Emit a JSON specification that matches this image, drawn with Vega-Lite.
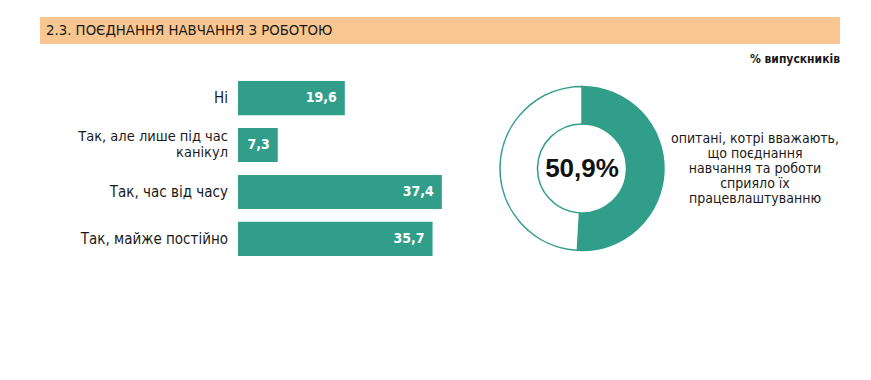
{
  "$schema": "https://vega.github.io/schema/vega-lite/v6.json",
  "background": "white",
  "padding": {"left": 40, "top": 17, "right": 5, "bottom": 5},
  "spacing": 10,
  "config": {
    "view": {"stroke": null},
    "font": "DejaVu Sans Condensed, DejaVu Sans",
    "locale": {"number": {"decimal": ",", "thousands": " ", "grouping": [3], "currency": ["", " грн"]}}
  },
  "datasets": {
    "bars": [
      {"cat": "Ні", "value": 19.6},
      {"cat": "Так, але лише під час\nканікул", "value": 7.3},
      {"cat": "Так, час від часу", "value": 37.4},
      {"cat": "Так, майже постійно", "value": 35.7}
    ],
    "donut": [
      {"part": "так", "value": 50.9, "n": 1},
      {"part": "ні", "value": 49.1, "n": 2}
    ]
  },
  "vconcat": [
    {
      "width": 800,
      "height": 27,
      "view": {"fill": "#F8C690", "stroke": null},
      "layer": [
        {
          "data": {"values": [{"t": "2.3. ПОЄДНАННЯ НАВЧАННЯ З РОБОТОЮ"}]},
          "mark": {"type": "text", "align": "left", "baseline": "middle", "dx": 6, "fontSize": 14.8, "color": "#1a1a1a"},
          "encoding": {
            "text": {"field": "t"},
            "x": {"datum": 0, "type": "quantitative", "scale": {"domain": [0, 1]}, "axis": null}
          }
        },
        {
          "data": {"values": [{"t": "% випускників"}]},
          "mark": {"type": "text", "align": "right", "baseline": "middle", "dy": 28, "fontSize": 12, "fontWeight": "bold", "color": "#1a1a1a"},
          "encoding": {
            "text": {"field": "t"},
            "x": {"datum": 1, "type": "quantitative"}
          }
        }
      ]
    },
    {
      "spacing": 10,
      "hconcat": [
        {
          "width": 188,
          "height": 187,
          "data": {"name": "bars"},
          "encoding": {
            "y": {"field": "cat", "type": "nominal", "axis": null, "scale": {"domain": ["Ні", "Так, але лише під час\nканікул", "Так, час від часу", "Так, майже постійно"], "paddingInner": 0.272, "paddingOuter": 0.13}},
            "x": {"value": "width"},
            "text": {"field": "cat"}
          },
          "layer": [
            {
              "transform": [{"filter": {"not": {"field": "cat", "equal": "Так, але лише під час\nканікул"}}}],
              "mark": {"type": "text", "align": "right", "baseline": "middle", "fontSize": 15, "color": "#1a1a1a"}
            },
            {
              "transform": [{"filter": {"field": "cat", "equal": "Так, але лише під час\nканікул"}}],
              "mark": {"type": "text", "align": "right", "baseline": "middle", "fontSize": 14.5, "lineBreak": "\n", "lineHeight": 15.5, "dy": -7.75, "color": "#1a1a1a"}
            }
          ]
        },
        {
          "width": 218,
          "height": 187,
          "data": {"name": "bars"},
          "encoding": {
            "y": {"field": "cat", "type": "nominal", "sort": null, "axis": null, "scale": {"paddingInner": 0.272, "paddingOuter": 0.13}},
            "x": {"field": "value", "type": "quantitative", "axis": null, "scale": {"domain": [0, 40]}}
          },
          "layer": [
            {"mark": {"type": "bar", "color": "#309E89"}},
            {
              "mark": {"type": "text", "align": "right", "baseline": "middle", "dx": -8, "color": "white", "fontWeight": "bold", "fontSize": 14},
              "encoding": {"text": {"field": "value", "type": "quantitative", "format": ".1f"}}
            }
          ]
        },
        {
          "width": 232,
          "height": 187,
          "layer": [
            {
              "data": {"name": "donut"},
              "mark": {"type": "arc", "outerRadius": 82, "innerRadius": 44.5, "stroke": "#309E89", "strokeWidth": 1.5},
              "encoding": {
                "theta": {"field": "value", "type": "quantitative", "stack": true},
                "color": {"field": "part", "type": "nominal", "scale": {"domain": ["так", "ні"], "range": ["#309E89", "#ffffff"]}, "legend": null},
                "order": {"field": "n", "type": "quantitative"}
              }
            },
            {
              "data": {"values": [{"t": "50,9%"}]},
              "mark": {"type": "text", "align": "center", "baseline": "middle", "fontSize": 26, "fontWeight": "bold", "font": "Liberation Sans", "color": "#111111"},
              "encoding": {"text": {"field": "t"}}
            },
            {
              "data": {"values": [{"t": "опитані, котрі вважають,\nщо поєднання\nнавчання та роботи\nсприяло їх\nпрацевлаштуванню"}]},
              "mark": {"type": "text", "align": "center", "baseline": "middle", "dx": 173, "dy": -30, "fontSize": 14, "lineBreak": "\n", "lineHeight": 15, "color": "#1a1a1a"},
              "encoding": {"text": {"field": "t"}}
            }
          ]
        }
      ]
    }
  ]
}
